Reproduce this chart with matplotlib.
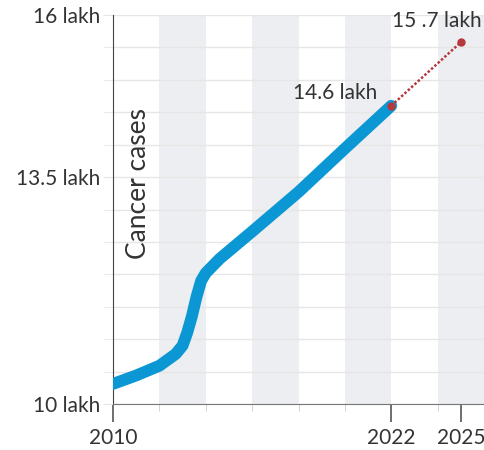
import matplotlib
matplotlib.use("Agg")
import matplotlib.pyplot as plt
import numpy as np

# cancer cases in lakh
years = [2010.0, 2011.0, 2012.0, 2012.7, 2013.0, 2013.2, 2013.4, 2013.6,
         2013.8, 2014.0, 2014.3, 2014.6, 2016.0, 2018.0, 2020.0, 2022.0]
cases = [10.31, 10.44, 10.59, 10.77, 10.90, 11.10, 11.35, 11.65,
         11.90, 12.02, 12.13, 12.24, 12.66, 13.27, 13.94, 14.60]

proj_years = [2022, 2025]
proj_cases = [14.60, 15.58]

band_starts = [2012, 2016, 2020, 2024]
ytick_vals = [10, 13.5, 16]
ytick_labels = ["10 lakh", "13.5 lakh", "16 lakh"]
xtick_vals = [2010, 2022, 2025]

plt.rcParams['font.family'] = ['Lato', 'DejaVu Sans']

fig = plt.figure(figsize=(4.85, 4.5), dpi=100)
ax = fig.add_axes([113/485, 46/450, 371/485, 389/450])

for b in band_starts:
    ax.axvspan(b, b + 2, color="#eceef1", lw=0, zorder=0)

for g in np.arange(10, 16.01, 0.5):
    ax.axhline(g, color="#e6e6e6", lw=1, zorder=1)

ax.plot(years, cases, color="#0b97d4", lw=8.5, solid_capstyle="round",
        solid_joinstyle="round", zorder=3)
ax.plot(proj_years, proj_cases, color="#b5383c", lw=1.8,
        linestyle=(0, (1, 0.8)), zorder=4)
ax.plot(proj_years, proj_cases, "o", color="#b5383c", ms=5, zorder=5)

ax.text(2021.4, proj_cases[0] + 0.05, "14.6 lakh", ha="right", va="bottom",
        fontsize=15, color="#333333")
ax.text(2025.9, proj_cases[1] + 0.17, "15 .7 lakh", ha="right", va="bottom",
        fontsize=15, color="#333333")
ax.text(2011.1, 13.4, "Cancer cases", rotation=90, ha="center", va="center",
        fontsize=19, color="#333333")

ax.set_xlim(2010, 2026)
ax.set_ylim(10, 16)

ax.set_yticks(np.arange(10, 16.01, 0.5), minor=True)
ax.set_yticks(ytick_vals)
ax.set_yticklabels(ytick_labels)
ax.tick_params(axis="y", which="both", length=7, color="#e6e6e6",
               labelsize=15, labelcolor="#333333", pad=2)

ax.set_xticks(np.arange(2010, 2026, 2), minor=True)
ax.set_xticks(xtick_vals)
ax.set_xticklabels([str(v) for v in xtick_vals])
ax.tick_params(axis="x", which="major", length=13, width=1.2, color="#555555",
               labelsize=15, labelcolor="#333333", pad=4)
ax.tick_params(axis="x", which="minor", length=5, color="#cccccc")

for s in ["top", "right"]:
    ax.spines[s].set_visible(False)
ax.spines["left"].set_color("#444444")
ax.spines["bottom"].set_color("#777777")

fig.savefig("out.png", dpi=100)
